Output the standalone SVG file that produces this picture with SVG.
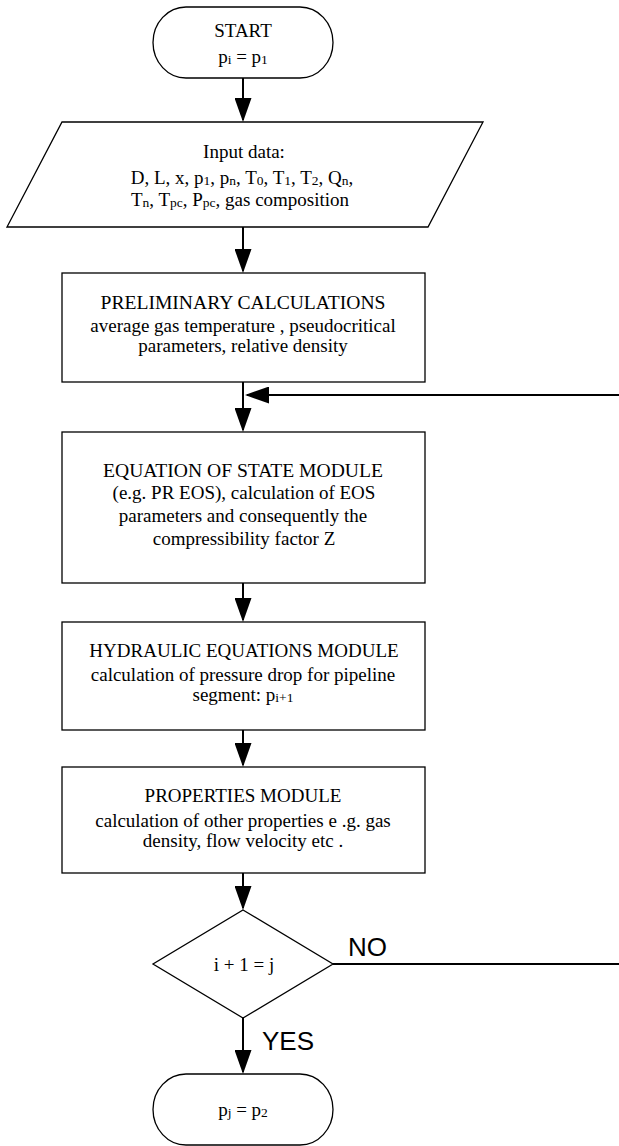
<svg xmlns="http://www.w3.org/2000/svg" width="619" height="1146" viewBox="0 0 619 1146">
<style>
.shape{fill:#fff;stroke:#000;stroke-width:1.3}
.conn{stroke:#000;stroke-width:2;fill:none}
.t{font-family:"Liberation Serif","Times New Roman",serif;font-size:19px;text-anchor:middle;fill:#000}
.h{font-size:19.6px}
.sub{font-size:13.5px}
.lbl{font-family:"Liberation Sans",Arial,sans-serif;font-size:26px;fill:#000}
</style>
<defs>
<marker id="ah" markerUnits="userSpaceOnUse" markerWidth="24" markerHeight="17" refX="22" refY="8.5" orient="auto">
<path d="M0,0 L24,8.5 L0,17 Z" fill="#000"/>
</marker>
</defs>
<rect width="619" height="1146" fill="#fff"/>
<g id="connectors">
<line class="conn" x1="243" y1="78" x2="243" y2="120" marker-end="url(#ah)"/>
<line class="conn" x1="243" y1="227" x2="243" y2="271" marker-end="url(#ah)"/>
<line class="conn" x1="243" y1="382" x2="243" y2="430" marker-end="url(#ah)"/>
<line class="conn" x1="619" y1="395" x2="247" y2="395" marker-end="url(#ah)"/>
<line class="conn" x1="243" y1="583" x2="243" y2="620" marker-end="url(#ah)"/>
<line class="conn" x1="243" y1="730" x2="243" y2="765" marker-end="url(#ah)"/>
<line class="conn" x1="243" y1="873" x2="243" y2="908" marker-end="url(#ah)"/>
<line class="conn" x1="243" y1="1018" x2="243" y2="1072" marker-end="url(#ah)"/>
<line class="conn" x1="333" y1="964" x2="619" y2="964" stroke-width="1.6"/>
<text class="lbl" x="348" y="956">NO</text>
<text class="lbl" x="262" y="1050">YES</text>
</g>
<g id="start">
<rect class="shape" x="153" y="7" width="180" height="71" rx="33" ry="35.5"/>
<text class="t" x="243" y="37">START</text>
<text class="t" x="243" y="63">p<tspan class="sub" dy="1">i</tspan><tspan dy="-1"> = p</tspan><tspan class="sub" dy="1">1</tspan></text>
</g>
<g id="input">
<polygon class="shape" points="62,122 483,122 428,227 7,227"/>
<text class="t" x="244" y="158">Input data:</text>
<text class="t" x="242" y="184">D, L, x, p<tspan class="sub" dy="1">1</tspan><tspan dy="-1">, p</tspan><tspan class="sub" dy="1">n</tspan><tspan dy="-1">, T</tspan><tspan class="sub" dy="1">0</tspan><tspan dy="-1">, T</tspan><tspan class="sub" dy="1">1</tspan><tspan dy="-1">, T</tspan><tspan class="sub" dy="1">2</tspan><tspan dy="-1">, Q</tspan><tspan class="sub" dy="1">n</tspan><tspan dy="-1">,</tspan></text>
<text class="t" x="240" y="206">T<tspan class="sub" dy="1">n</tspan><tspan dy="-1">, T</tspan><tspan class="sub" dy="1">pc</tspan><tspan dy="-1">, P</tspan><tspan class="sub" dy="1">pc</tspan><tspan dy="-1">, gas composition</tspan></text>
</g>
<g id="preliminary">
<rect class="shape" x="62" y="273" width="363" height="109"/>
<text class="t h" x="243" y="309">PRELIMINARY CALCULATIONS</text>
<text class="t" x="243" y="332">average gas temperature , pseudocritical</text>
<text class="t" x="243" y="352">parameters, relative density</text>
</g>
<g id="eos">
<rect class="shape" x="62" y="432" width="363" height="151"/>
<text class="t h" x="243" y="477">EQUATION OF STATE MODULE</text>
<text class="t" x="244" y="499">(e.g. PR EOS), calculation of EOS</text>
<text class="t" x="243" y="522">parameters and consequently the</text>
<text class="t" x="244" y="545">compressibility factor Z</text>
</g>
<g id="hydraulic">
<rect class="shape" x="62" y="622" width="363" height="108"/>
<text class="t" x="244" y="657">HYDRAULIC EQUATIONS MODULE</text>
<text class="t" x="243" y="681">calculation of pressure drop for pipeline</text>
<text class="t" x="243" y="701">segment: p<tspan class="sub" dy="1">i+1</tspan></text>
</g>
<g id="properties">
<rect class="shape" x="62" y="767" width="363" height="106"/>
<text class="t" x="243" y="802">PROPERTIES MODULE</text>
<text class="t" x="243" y="827">calculation of other properties e .g. gas</text>
<text class="t" x="243" y="847">density, flow velocity etc .</text>
</g>
<g id="decision">
<polygon class="shape" points="243,910 333,964 243,1018 153,964" stroke-width="1.1"/>
<text class="t" x="244" y="971" font-size="17">i + 1 = j</text>
</g>
<g id="end">
<rect class="shape" x="153" y="1074" width="180" height="71" rx="33" ry="35.5"/>
<text class="t" x="243" y="1116" font-size="17">p<tspan class="sub" dy="1">j</tspan><tspan dy="-1"> = p</tspan><tspan class="sub" dy="1">2</tspan></text>
</g>
</svg>
